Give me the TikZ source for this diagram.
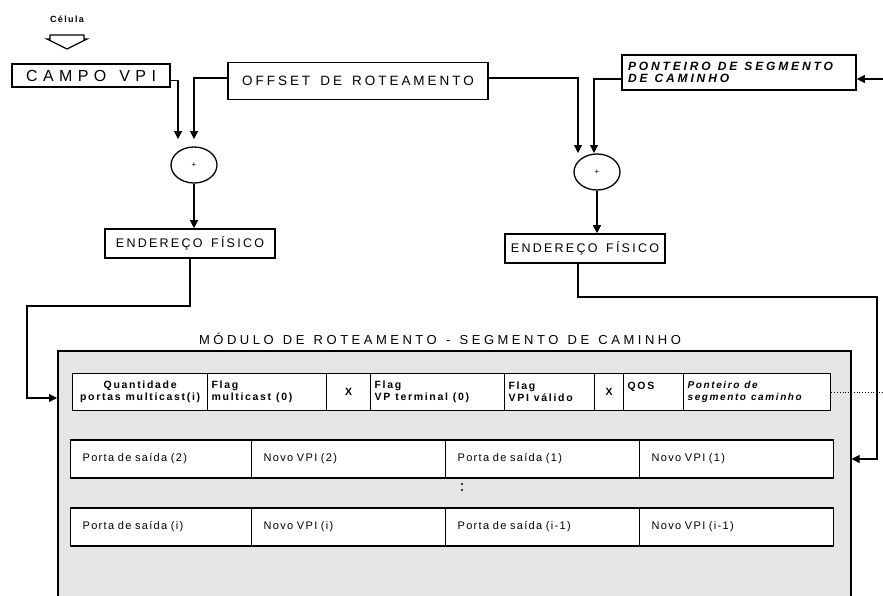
\documentclass[tikz,border=0pt]{standalone}
\usepackage{fontspec}
\setmainfont{Liberation Sans}
\newfontfamily\fcel[LetterSpace=15,WordSpace=2]{Liberation Sans}
\newfontfamily\fbig[LetterSpace=34,WordSpace=1.3]{Liberation Sans}
\newfontfamily\fwide[LetterSpace=22,WordSpace=1.5]{Liberation Sans}
\newfontfamily\ftitle[LetterSpace=27,WordSpace=1.3]{Liberation Sans}
\newfontfamily\fpont[LetterSpace=24]{Liberation Sans}
\newfontfamily\fend[LetterSpace=18,WordSpace=1.5]{Liberation Sans}
\newfontfamily\fhead[LetterSpace=16]{Liberation Sans}
\newfontfamily\fcell[LetterSpace=12,WordSpace=1.8]{Liberation Sans}
\newcommand\gap{\hspace{7pt}}
\newcommand\hgap{\hspace{5pt}}
\usetikzlibrary{arrows.meta,shapes.geometric,calc}

\begin{document}
\begin{tikzpicture}[x=1pt,y=-1pt,
  conn/.style={line width=1.1pt, -{Triangle[length=8pt,width=8pt]}},
  frame/.style={draw, line width=1.6pt, inner sep=0pt},
  sumnode/.style={draw, ellipse, line width=1.3pt, minimum width=46pt,
    minimum height=36pt, inner sep=0pt, font=\fontsize{8}{9}\selectfont},
  hcell/.style={draw, line width=1.3pt, minimum height=37pt, anchor=west,
    inner xsep=4pt, inner ysep=0pt, align=left,
    font=\fhead\bfseries\fontsize{10.5}{12}\selectfont},
  rcell/.style={draw, line width=1.3pt, minimum height=38pt, anchor=west,
    inner xsep=12pt, align=left, font=\fcell\fontsize{11}{13}\selectfont},
]
\fill[white] (0,0) rectangle (883,595);
\useasboundingbox (0,0) rectangle (883,595);

% input cell marker
\node[font=\fcel\bfseries\fontsize{9}{10}\selectfont] (cel) at (67,19) {Célula};
\draw[line width=1.3pt, line join=miter]
  (50,35) -- (84,35) -- (84,39) -- (87,39) -- (67,49) -- (47,39) -- (50,39) -- cycle;

% top row of boxes
\node[frame, minimum width=158pt, minimum height=23pt,
  font=\fbig\fontsize{16}{18}\selectfont] (campo) at (91,75.5) {CAMPO VPI};
\node[frame, minimum width=260pt, minimum height=37pt,
  font=\fwide\fontsize{13.5}{15}\selectfont] (offset) at (358,81) {OFFSET DE ROTEAMENTO};
\node[frame, minimum width=234pt, minimum height=35pt, inner xsep=6pt, align=left,
  text width=222pt, font=\fpont\bfseries\itshape\fontsize{12}{12.5}\selectfont]
  (pont) at (739,72.5) {PONTEIRO\gap DE\gap SEGMENTO\\DE\gap CAMINHO};

% adders
\node[sumnode] (sum1) at (194,165) {+};
\node[sumnode] (sum2) at (597,172) {+};

% physical address boxes
\node[frame, minimum width=170pt, minimum height=29pt,
  font=\fend\fontsize{12.5}{14}\selectfont] (end1) at (190,243.5) {ENDEREÇO FÍSICO};
\node[frame, minimum width=160pt, minimum height=29pt,
  font=\fend\fontsize{12.5}{14}\selectfont] (end2) at (585,248.5) {ENDEREÇO FÍSICO};

% routing module
\node[font=\ftitle\fontsize{13}{14}\selectfont] (title) at (440,339)
  {MÓDULO DE ROTEAMENTO - SEGMENTO DE CAMINHO};
\begin{scope}
  \clip (0,0) rectangle (883,595);
  \node[draw, line width=1.5pt, fill=black!10, minimum width=793pt,
    minimum height=270pt, anchor=north west, inner sep=0pt] (mod) at (57,350) {};
\end{scope}

% header entry
\node[hcell, fill=white, minimum width=135pt, text width=127pt, align=center] (q) at (72,392)
  {Quantidade\\portas\hgap multicast(i)};
\node[hcell, fill=white, minimum width=119pt, text width=111pt] (fm) at (207,392)
  {Flag\\multicast\hgap (0)};
\node[hcell, fill=white, minimum width=44pt, align=center] (x1) at (326,392) {X};
\node[hcell, fill=white, minimum width=134pt, text width=126pt] (vt) at (370,392)
  {Flag\\VP\hgap terminal\hgap (0)};
\node[hcell, fill=white, minimum width=90pt, text width=82pt] (vv) at (504,392)
  {Flag\\VPI\hgap válido};
\node[hcell, fill=white, minimum width=29pt, align=center] (x2) at (594,392) {X};
\node[hcell, fill=white, minimum width=60pt, text width=52pt] (qos) at (623,392)
  {QOS\\\mbox{}};
\node[hcell, fill=white, minimum width=147pt, text width=139pt,
  font=\fhead\bfseries\itshape\fontsize{10}{12}\selectfont] (pt) at (683,392)
  {Ponteiro\hgap de\\segmento\hgap caminho};

% output entries
\node[rcell, fill=white, minimum width=181pt, text width=157pt] (p2) at (70,459) {Porta de saída (2)};
\node[rcell, fill=white, minimum width=194pt, text width=170pt] (n2) at (251,459) {Novo VPI (2)};
\node[rcell, fill=white, minimum width=194pt, text width=170pt] (p1) at (445,459) {Porta de saída (1)};
\node[rcell, fill=white, minimum width=194pt, text width=170pt] (n1) at (639,459) {Novo VPI (1)};

\node[rcell, fill=white, minimum width=181pt, text width=157pt] (pi) at (70,527) {Porta de saída (i)};
\node[rcell, fill=white, minimum width=194pt, text width=170pt] (ni) at (251,527) {Novo VPI (i)};
\node[rcell, fill=white, minimum width=194pt, text width=170pt] (pim) at (445,527) {Porta de saída (i-1)};
\node[rcell, fill=white, minimum width=194pt, text width=170pt] (nim) at (639,527) {Novo VPI (i-1)};

% continuation mark
\fill (462,484) circle (1.1pt) (462,490) circle (1.1pt);

% connector end points
\coordinate (in1a) at (178,139);
\coordinate (in1b) at (194,139);
\coordinate (in2a) at (578,153);
\coordinate (in2b) at (594,153);
\coordinate (k1) at (27,306);
\coordinate (k2) at (877,297);
\coordinate (inL) at ($(mod.north west)+(0,48)$);
\coordinate (rim) at (883,0);
\coordinate (pin) at (883,79);

% connectors
\draw[conn] ([yshift=-5pt]campo.east) -| (in1a);
\draw[conn] ([yshift=3pt]offset.west) -| (in1b);
\draw[conn] ([yshift=3pt]offset.east) -| (in2a);
\draw[conn] ([yshift=-6.5pt]pont.west) -| (in2b);
\draw[conn] (sum1.south) -- (sum1.south |- end1.north);
\draw[conn] (sum2.south) -- (sum2.south |- end2.north);
\draw[conn] (end1.south) |- (k1) |- (inL);
\draw[conn] ([xshift=-7pt]end2.south) |- (k2) |- (mod.east |- n1.east);
\draw[dotted, line width=0.8pt] (pt.east) -- (pt.east -| rim);
\draw[conn] (pin) -- (pin -| pont.east);
\end{tikzpicture}
\end{document}
